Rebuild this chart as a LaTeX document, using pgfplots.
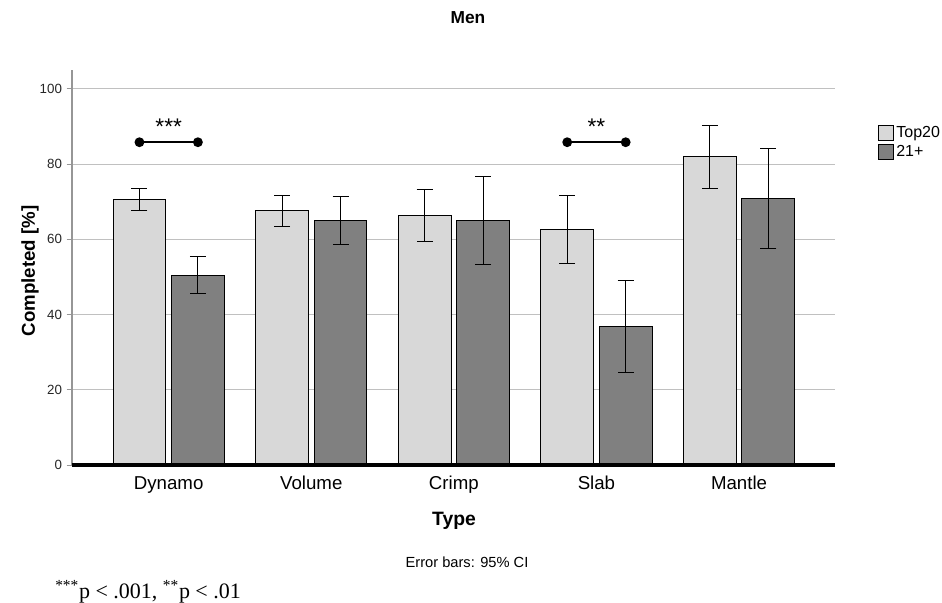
\documentclass[border=0pt]{standalone}
\usepackage{pgfplots}
\pgfplotsset{compat=1.18}
\usepackage{pgfplotstable}
\usepackage{fontspec}
\setmainfont{Liberation Sans}
\newfontfamily\seriffont{Liberation Serif}
\definecolor{lightbar}{RGB}{216,216,216}
\definecolor{darkbar}{RGB}{128,128,128}
\definecolor{gridc}{RGB}{192,192,192}
\definecolor{axisc}{RGB}{150,150,150}

\pgfplotstableread{
x y ep em
0 70.7 2.9 3.1
1 67.6 4.1 4.1
2 66.3 7.0 6.9
3 62.5 9.1 8.9
4 81.9 8.3 8.3
}\topdata
\pgfplotstableread{
x y ep em
0 50.4 5.0 4.8
1 65.0 6.4 6.3
2 65.0 11.8 11.8
3 36.9 12.1 12.3
4 70.9 13.2 13.3
}\olddata

\begin{document}
\begin{tikzpicture}
\path[use as bounding box] ({-72*0.75pt},{-138*0.75pt}) rectangle ({870*0.75pt},{465*0.75pt});
\begin{axis}[
  at={(0,0)}, anchor=south west,
  scale only axis, width=572.25pt, height=296.25pt,
  xmin=-0.678, xmax=4.673, ymin=0, ymax=105,
  clip=false,
  axis lines*=left,
  x axis line style={draw=none},
  y axis line style={axisc, line width=0.8pt},
  xtick={0,1,2,3,4},
  xticklabels={Dynamo,Volume,Crimp,Slab,Mantle},
  x tick style={draw=none},
  x tick label style={font=\fontsize{14}{16}\selectfont, yshift=-1pt},
  ytick={0,20,40,60,80,100},
  y tick style={axisc, line width=0.6pt},
  tick align=outside, major tick length=4pt,
  y tick label style={font=\fontsize{10}{12}\selectfont, text=black!85},
  /pgf/number format/assume math mode=true,
  ymajorgrids, grid style={gridc, line width=0.8pt},
  ybar, bar width=0.37,
  legend style={at={(rel axis cs:1.056,0.865)}, anchor=north west, draw=none, fill=none,
    font=\fontsize{12}{13}\selectfont, inner sep=0pt, row sep=0.5pt,
    /tikz/every even column/.append style={column sep=0pt}},
  legend cell align=left,
  legend image code/.code={\draw[#1] (0pt,-5.5pt) rectangle (11pt,5.5pt);},
  error bars/error bar style={black, line width=0.8pt},
  error bars/error mark options={rotate=90, mark size=6pt, line width=0.8pt, black},
]
\addplot[bar shift=-0.205, fill=lightbar, draw=black, line width=0.75pt,
  error bars/.cd, y dir=both, y explicit]
  table[x=x, y=y, y error plus=ep, y error minus=em]{\topdata};
\addlegendentry{Top20}
\addplot[bar shift=0.205, fill=darkbar, draw=black, line width=0.75pt,
  error bars/.cd, y dir=both, y explicit]
  table[x=x, y=y, y error plus=ep, y error minus=em]{\olddata};
\addlegendentry{21+}
\addplot[sharp plot, forget plot, black, line width=2.4pt]
  coordinates {(-0.678,0) (4.673,0)};
\addplot[sharp plot, forget plot, black, line width=1.3pt, mark=*, mark size=3pt]
  coordinates {(-0.205,85.8) (0.205,85.8)};
\addplot[sharp plot, forget plot, black, line width=1.3pt, mark=*, mark size=3pt]
  coordinates {(2.795,85.8) (3.205,85.8)};
\node[font=\fontsize{17}{18}\selectfont] at (axis cs:0,90.0) {***};
\node[font=\fontsize{17}{18}\selectfont] at (axis cs:3,90.0) {**};
\end{axis}
\node[font=\bfseries\fontsize{13}{15}\selectfont] at ({(468-72)*0.75pt},{(465-18)*0.75pt}) {Men};
\node[font=\bfseries\fontsize{14}{16}\selectfont, rotate=90] at ({(30-72)*0.75pt},{(465-271)*0.75pt}) {Completed [\%]};
\node[font=\bfseries\fontsize{14.5}{16}\selectfont] at ({(454-72)*0.75pt},{(465-521)*0.75pt}) {Type};
\node[font=\fontsize{11}{13}\selectfont] at ({(467-72)*0.75pt},{(465-562)*0.75pt}) {Error bars: 95\% CI};
\node[font=\seriffont\fontsize{16.5}{18}\selectfont, anchor=west, inner sep=0pt] at ({(55-72)*0.75pt},{(465-592)*0.75pt}) {\textsuperscript{***}p < .001, \textsuperscript{**}p < .01};
\end{tikzpicture}
\end{document}
